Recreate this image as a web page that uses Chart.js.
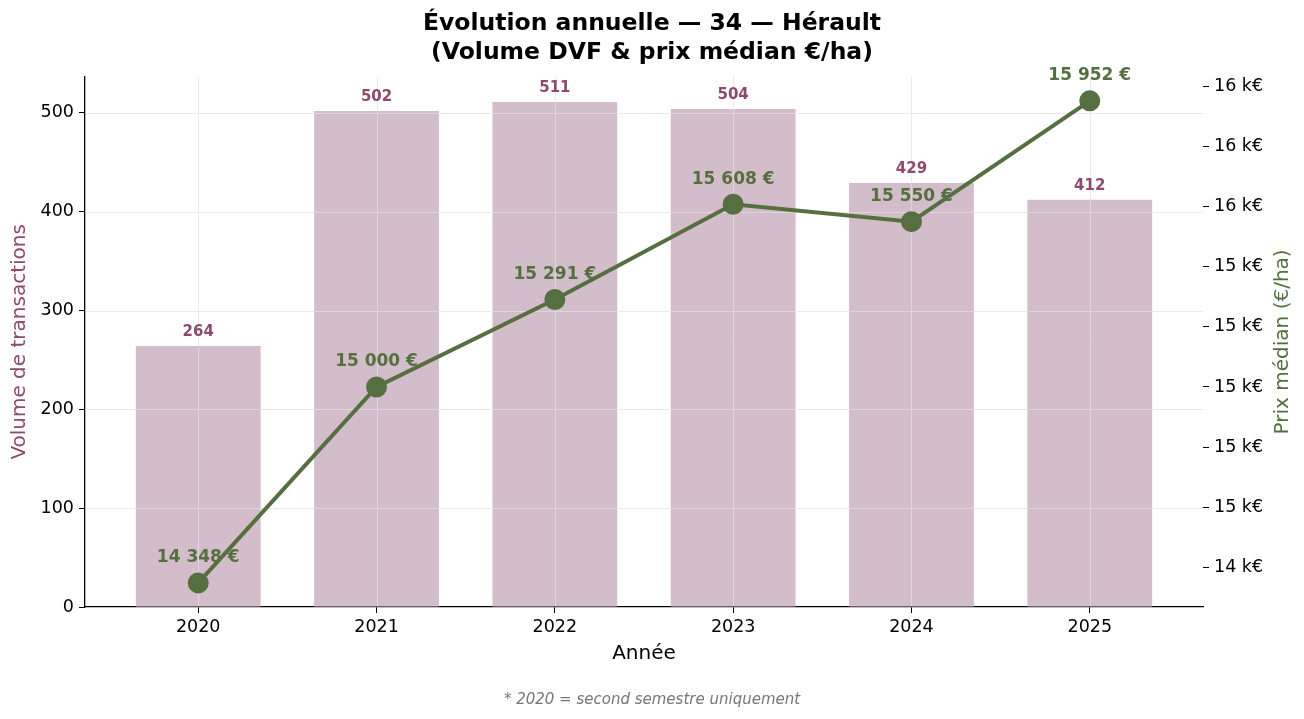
<!DOCTYPE html>
<html>
<head>
<meta charset="utf-8">
<script src="https://cdn.jsdelivr.net/npm/chart.js@4/dist/chart.umd.min.js"></script>
<style>
  html, body { margin: 0; padding: 0; background: #fff; }
  #wrap { width: 1304px; height: 719px; }
</style>
</head>
<body>
<div id="wrap"><canvas id="c" width="1304" height="719"></canvas></div>
<script>
const years = ["2020", "2021", "2022", "2023", "2024", "2025"];
const volumes = [264, 502, 511, 504, 429, 412];
const prices = [14348, 15000, 15291, 15608, 15550, 15952];
const volumeTicks = [0, 100, 200, 300, 400, 500];
const priceTicks = [14400, 14600, 14800, 15000, 15200, 15400, 15600, 15800, 16000];

const BAR = "#d4bdca";
const BAR_TEXT = "#8b4a6e";
const LINE = "#566f40";
const FONT = "'DejaVu Sans', sans-serif";

const fmtEuro = (v) => String(v).replace(/\B(?=(\d{3})+(?!\d))/g, " ") + " €";

// matplotlib-like margins (5 %)
const pMin = Math.min(...prices), pMax = Math.max(...prices);
const pPad = (pMax - pMin) * 0.05;

// grid over the bars, under the line
const gridPlugin = {
  id: "gridOverBars",
  afterDatasetDraw(chart, args) {
    if (args.index !== 0) return;
    const { ctx, chartArea: a, scales } = chart;
    ctx.save();
    ctx.strokeStyle = "rgba(225,225,225,0.7)";
    ctx.lineWidth = 1;
    ctx.beginPath();
    volumeTicks.slice(1).forEach((t) => {
      const y = Math.round(scales.y.getPixelForValue(t)) + 0.5;
      ctx.moveTo(a.left + 1, y); ctx.lineTo(a.right, y);
    });
    years.forEach((_, i) => {
      const x = Math.round(scales.x.getPixelForValue(i)) + 0.5;
      ctx.moveTo(x, a.top); ctx.lineTo(x, a.bottom - 1);
    });
    ctx.stroke();
    ctx.restore();
  }
};

const labelPlugin = {
  id: "valueLabels",
  afterDatasetsDraw(chart) {
    const { ctx } = chart;
    ctx.save();
    ctx.textAlign = "center";
    ctx.textBaseline = "middle";
    ctx.font = "bold 15px " + FONT;
    ctx.fillStyle = BAR_TEXT;
    chart.getDatasetMeta(0).data.forEach((el, i) => {
      ctx.fillText(String(volumes[i]), el.x, el.y - 14);
    });
    ctx.font = "bold 17px " + FONT;
    ctx.fillStyle = LINE;
    chart.getDatasetMeta(1).data.forEach((el, i) => {
      ctx.fillText(fmtEuro(prices[i]), el.x, el.y - 25);
    });
    // right axis title, reading bottom to top
    const a = chart.chartArea;
    ctx.font = "20px " + FONT;
    ctx.translate(1283, (a.top + a.bottom) / 2);
    ctx.rotate(-Math.PI / 2);
    ctx.fillText("Prix médian (€/ha)", 0, 0);
    ctx.restore();
  }
};

new Chart(document.getElementById("c"), {
  data: {
    datasets: [
      {
        type: "bar",
        label: "Volume",
        data: volumes.map((v, i) => ({ x: i, y: v })),
        backgroundColor: BAR,
        barPercentage: 0.7,
        categoryPercentage: 1.0,
        yAxisID: "y",
        order: 2,
      },
      {
        type: "line",
        label: "Prix médian",
        data: prices.map((v, i) => ({ x: i, y: v })),
        borderColor: LINE,
        backgroundColor: LINE,
        borderWidth: 4,
        pointRadius: 8.5,
        pointHoverRadius: 8.5,
        pointBackgroundColor: LINE,
        pointBorderColor: LINE,
        yAxisID: "y1",
        order: 1,
      },
    ],
  },
  options: {
    responsive: false,
    animation: false,
    layout: { padding: { left: 0, right: 0, top: 0, bottom: 0 } },
    scales: {
      x: {
        type: "linear",
        offset: false,
        min: -0.635,
        max: 5.635,
        afterBuildTicks: (s) => { s.ticks = years.map((_, i) => ({ value: i })); },
        afterFit: (s) => { s.height = 84; },
        ticks: {
          callback: (v) => years[v] ?? "",
          color: "#000",
          font: { family: FONT, size: 17.5 },
          padding: 4,
          maxRotation: 0,
        },
        grid: { offset: false, drawOnChartArea: false, drawTicks: true, tickLength: 6, tickColor: "#000", tickWidth: 1 },
        border: { display: true, color: "#000", width: 1.3 },
        title: {
          display: true,
          text: "Année",
          color: "#000",
          font: { family: FONT, size: 20 },
          padding: { top: 0, bottom: 25 },
        },
      },
      y: {
        position: "left",
        min: 0,
        max: Math.max(...volumes) * 1.05,
        afterBuildTicks: (s) => { s.ticks = volumeTicks.map((v) => ({ value: v })); },
        afterFit: (s) => { s.width = 85; },
        ticks: { color: "#000", font: { family: FONT, size: 17.5 }, padding: 5 },
        grid: { drawOnChartArea: false, drawTicks: true, tickLength: 6, tickColor: "#000", tickWidth: 1 },
        border: { display: true, color: "#000", width: 1.3 },
        title: {
          display: true,
          text: "Volume de transactions",
          color: BAR_TEXT,
          font: { family: FONT, size: 20 },
          padding: { top: 8, bottom: 0 },
        },
      },
      y1: {
        position: "right",
        min: pMin - pPad,
        max: pMax + pPad,
        afterBuildTicks: (s) => { s.ticks = priceTicks.map((v) => ({ value: v })); },
        afterFit: (s) => { s.width = 101; },
        ticks: {
          callback: (v) => Math.round(v / 1000) + " k€",
          color: "#000",
          font: { family: FONT, size: 17.5 },
          padding: 5,
        },
        grid: { drawOnChartArea: false, drawTicks: true, tickLength: 6, tickColor: "#000", tickWidth: 1 },
        border: { display: false },
      },
    },
    plugins: {
      legend: { display: false },
      tooltip: { enabled: false },
      title: {
        display: true,
        text: ["Évolution annuelle — 34 — Hérault", "(Volume DVF & prix médian €/ha)"],
        color: "#000",
        font: { family: FONT, size: 23.5, weight: "bold", lineHeight: 1.25 },
        padding: { top: 9, bottom: 9 },
      },
      subtitle: {
        display: true,
        position: "bottom",
        text: "* 2020 = second semestre uniquement",
        color: "#777",
        font: { family: FONT, size: 15, style: "italic" },
        padding: { top: 0, bottom: 10 },
      },
    },
  },
  plugins: [gridPlugin, labelPlugin],
});
</script>
</body>
</html>
